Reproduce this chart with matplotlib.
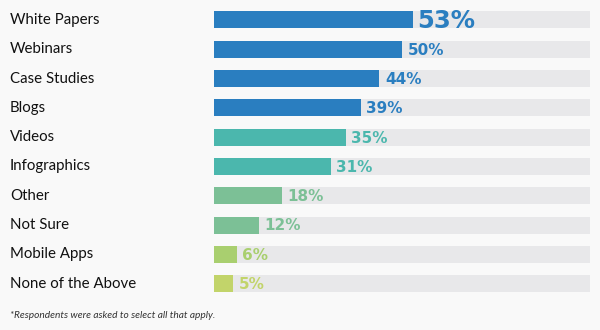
import matplotlib
matplotlib.use("Agg")
import matplotlib.pyplot as plt
from matplotlib.transforms import blended_transform_factory

categories = ["White Papers", "Webinars", "Case Studies", "Blogs", "Videos",
              "Infographics", "Other", "Not Sure", "Mobile Apps", "None of the Above"]
values = [53, 50, 44, 39, 35, 31, 18, 12, 6, 5]
colors = ["#2a7ec0", "#2a7ec0", "#2a7ec0", "#2a7ec0", "#4bb7ad", "#4bb7ad",
          "#7cc096", "#7cc096", "#a9cf6f", "#c2d46a"]
label_colors = ["#2a7ec0", "#2a7ec0", "#2a7ec0", "#2a7ec0", "#4bb7ad", "#4bb7ad",
                "#7cc096", "#7cc096", "#a9cf6f", "#c2d46a"]

bg = "#f9f9f9"
fig = plt.figure(figsize=(6, 3.3), dpi=100, facecolor=bg)
ax = fig.add_axes([214/600, 1 - 298.3/330, 376/600, 293/330])
ax.set_facecolor(bg)

pos = list(range(len(categories)))
ax.barh(pos, [100]*len(pos), height=0.58, color="#e8e8ea", zorder=1)
ax.barh(pos, values, height=0.58, color=colors, zorder=2)

ax.set_xlim(0, 100)
ax.set_ylim(len(pos) - 0.5, -0.5)
ax.axis("off")

tr = blended_transform_factory(fig.transFigure, ax.transData)
for i, (c, v) in enumerate(zip(categories, values)):
    ax.text(10/600, i, c, transform=tr, ha="left", va="center",
            fontsize=10.8, family="Lato", color="#111111")
    big = i == 0
    ax.text(v + (1.0 if big else 1.5), i + (0.02 if big else 0.03), f"{v}%",
            ha="left", va="center", fontsize=17.5 if big else 11,
            fontweight="bold", family="DejaVu Sans", color=label_colors[i], zorder=3)

fig.text(10/600, 1 - 315/330, "*Respondents were asked to select all that apply.",
         ha="left", va="center", fontsize=7.3, style="italic", family="Lato", color="#333333")

fig.savefig("out.png", dpi=100, facecolor=bg)
